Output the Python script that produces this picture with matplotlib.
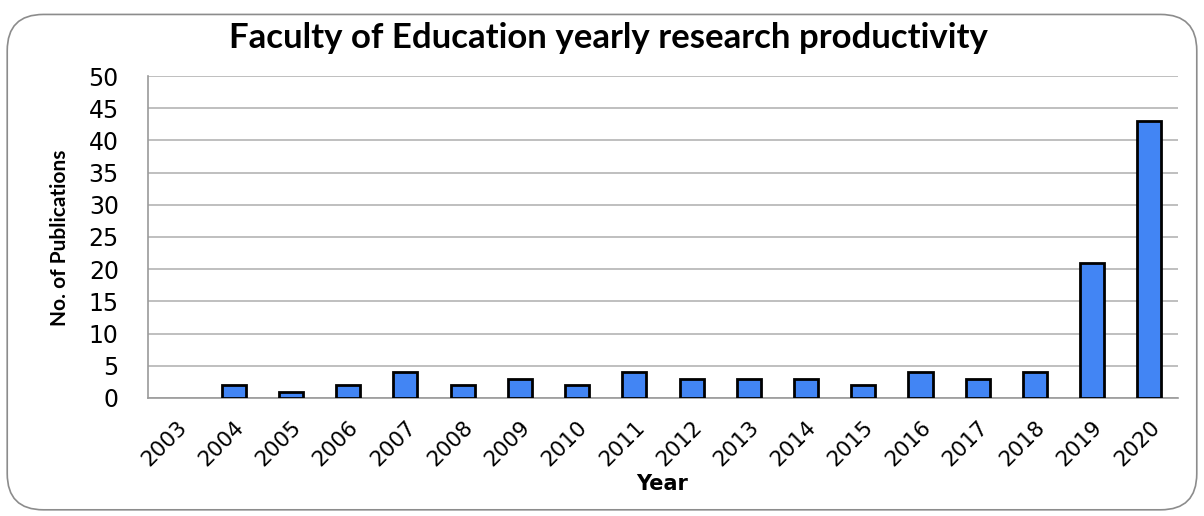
import matplotlib.pyplot as plt
from matplotlib.patches import FancyBboxPatch

years = [str(y) for y in range(2003, 2021)]
pubs = [0, 2, 1, 2, 4, 2, 3, 2, 4, 3, 3, 3, 2, 4, 3, 4, 21, 43]

fig = plt.figure(figsize=(12.04, 5.16), dpi=100)

# rounded chart frame
frame = FancyBboxPatch((0.006, 0.012), 0.988, 0.96, boxstyle="round,pad=0,rounding_size=0.03",
                       transform=fig.transFigure, facecolor="white", edgecolor="#8c8c8c",
                       linewidth=1.2, mutation_aspect=1204 / 516, zorder=-5)
fig.patches.append(frame)

ax = fig.add_axes([0.1229, 0.2287, 0.8555, 0.624])
ax.set_zorder(2)
ax.patch.set_alpha(0)
x = range(len(years))
bars = ax.bar(x, pubs, width=0.42, color="#4285f4", edgecolor="black", linewidth=2, zorder=3)
for b, v in zip(bars, pubs):
    if v == 0:
        b.set_linewidth(0)

ax.set_ylim(0, 50)
ax.set_xlim(-0.5, len(years) - 0.5)
ax.set_yticks(range(0, 51, 5))
ax.set_xticks(list(x))
ax.set_xticklabels(years, rotation=45, ha="right", rotation_mode="anchor", fontsize=15.5)
ax.tick_params(axis="y", labelsize=17, length=0, pad=21)
ax.tick_params(axis="x", length=0, pad=14)
ax.grid(axis="y", color="#b4b4b4", linewidth=1.2, zorder=0)
for s in ["top", "right"]:
    ax.spines[s].set_visible(False)
ax.spines["left"].set_color("#9a9a9a")
ax.spines["bottom"].set_color("#9a9a9a")
ax.spines["left"].set_linewidth(1.2)
ax.spines["bottom"].set_linewidth(1.2)

fig.text(0.505, 0.926, "Faculty of Education yearly research productivity", ha="center", va="center",
         fontsize=25, fontweight="bold", family=["Lato", "DejaVu Sans"])
fig.text(0.05, 0.539, "No. of Publications", rotation=90, ha="center", va="center",
         fontsize=15, fontweight="bold", family=["Lato", "DejaVu Sans"])
fig.text(0.55, 0.062, "Year", ha="center", va="center", fontsize=15, fontweight="bold")

fig.savefig("out.png", dpi=100)
